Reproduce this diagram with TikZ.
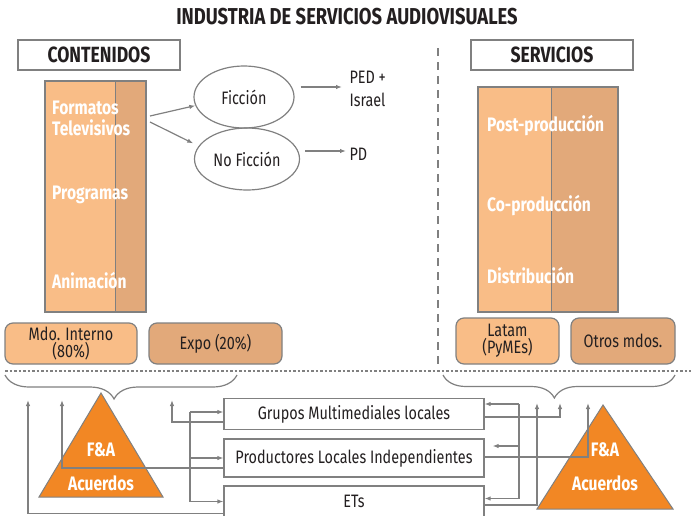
\documentclass[tikz,border=0pt]{standalone}
\usepackage{fontspec}
\setmainfont[FakeStretch=0.8]{Fira Sans}
\usepackage{tikz}
\usepackage{xcolor}
\definecolor{audnaranja}{RGB}{249, 189, 135}
\definecolor{audocre}{RGB}{226, 169, 122}
\definecolor{audfuerte}{RGB}{242, 135, 36}
\definecolor{audgris}{RGB}{128, 128, 128}
\definecolor{audtexto}{RGB}{35, 31, 32}
\usetikzlibrary{arrows.meta, decorations.pathreplacing, shapes.geometric, calc}

\begin{document}
\begin{tikzpicture}[>={Latex[length=6pt, width=4.5pt]}, x=1pt, y=-1pt,
    font=\fontsize{18}{19}\selectfont, text=audtexto,
    linea/.style={audgris, line width=1.2pt},
    flecha/.style={linea, ->},
    encabezado/.style={draw=audgris, line width=1.3pt, fill=white, font=\fontsize{22}{24}\selectfont\bfseries},
    blanco/.style={text=white, anchor=west, align=left, inner sep=0pt, font=\fontsize{19.5}{21}\selectfont\bfseries},
    elipse/.style={ellipse, draw=audgris, line width=1.2pt},
    mercado/.style={draw=audgris, line width=1.2pt, rounded corners=8pt, align=center, font=\fontsize{18}{17}\selectfont},
    agente/.style={draw=audgris, line width=1.2pt, minimum width=260pt}]

\useasboundingbox (0,0) rectangle (691,515);

% === Título ===
\node[font=\fontsize{23}{24}\selectfont\bfseries] (titulo) at (347,17) {INDUSTRIA DE SERVICIOS AUDIOVISUALES};

% === Contenidos ===
\node[encabezado, minimum width=162pt, minimum height=30pt] (contenidos) at (99,55) {CONTENIDOS};
\fill[audnaranja] (45,81) rectangle (146,312);
\fill[audocre] (115,81) rectangle (146,312);
\draw[audgris, line width=1pt] (115,81) -- (115,312);
\draw[audgris, line width=2.5pt] (45,81) rectangle (146,312);
\node[blanco] (formatos) at (52,118) {Formatos\\Televisivos};
\node[blanco] (programas) at (52,195) {Programas};
\node[blanco] (animacion) at (52,281) {Animación};

% Ficción / No Ficción
\node[elipse, minimum width=100pt, minimum height=62pt] (ficcion) at (244,97) {Ficción};
\node[elipse, minimum width=105pt, minimum height=62pt] (noficcion) at (247,159) {No Ficción};
\draw[flecha] (150,116) -- (ficcion.190);
\draw[flecha, shorten >=6pt] (150,122) -- (noficcion.165);

\node[anchor=west, align=left, font=\fontsize{18}{23}\selectfont] (ped) at (346,89) {PED +\\Israel};
\node[anchor=west] (pd) at (346,154) {PD};
\draw[flecha] ($(ficcion.east)+(6,-10)$) -- ($(ped.west)+(-4,-2)$);
\draw[flecha] ($(noficcion.east)+(5,-8)$) -- ($(pd.west)+(0,-3)$);

% Separador
\draw[audgris, line width=2.5pt, dash pattern=on 8pt off 6pt] (438,48) -- (438,370);

% === Servicios ===
\node[encabezado, minimum width=162pt, minimum height=30pt] (servicios) at (552,55) {SERVICIOS};
\fill[audnaranja] (478,87) rectangle (618,312);
\fill[audocre] (551,87) rectangle (618,312);
\draw[audgris, line width=1pt] (551,87) -- (551,312);
\draw[audgris, line width=2.5pt] (478,87) rectangle (618,312);
\node[blanco] (postprod) at (487,126) {Post-producción};
\node[blanco] (coprod) at (487,206) {Co-producción};
\node[blanco] (distrib) at (487,276) {Distribución};

% === Mercados ===
\node[mercado, fill=audnaranja, minimum width=132pt, minimum height=41pt] (interno) at (71,343.5) {Mdo. Interno\\(80\%)};
\node[mercado, fill=audocre, minimum width=133pt, minimum height=41pt] (expo) at (215.5,343.5) {Expo (20\%)};
\node[mercado, fill=audnaranja, minimum width=103pt, minimum height=46pt] (latam) at (507.5,341) {Latam\\(PyMEs)};
\node[mercado, fill=audocre, minimum width=104pt, minimum height=46pt] (otros) at (623,341) {Otros mdos.};

\draw[audgris, line width=2.5pt, dash pattern=on 2.5pt off 2pt] (5,371) -- (691,371);

% Llaves
\draw[linea, decorate, decoration={brace, mirror, amplitude=24pt, aspect=0.47}] (5,375) -- (237,375);
\draw[linea, decorate, decoration={brace, mirror, amplitude=23pt, aspect=0.48}] (443,375) -- (675,375);

% === F&A ===
\draw[audgris, line width=1pt, fill=audfuerte] (101,393) -- (163,497) -- (39,497) -- cycle;
\draw[audgris, line width=1pt, fill=audfuerte] (603,405) -- (673,509) -- (537,509) -- cycle;

% === Agentes ===
\node[agente, minimum height=31pt] (grupos) at (354,414) {Grupos Multimediales locales};
\node[agente, minimum height=38pt] (productores) at (354,458) {Productores Locales Independientes};
\node[agente, minimum height=31pt] (ets) at (354,501.5) {ETs};

% Conexiones izquierda
\coordinate (busizq) at (190,412);
\coordinate (mdoA) at (28,400);
\coordinate (mdoB) at (62,400);
\coordinate (mdoC) at (172,400);
\draw[linea] (busizq) -- (busizq |- ets.west);
\draw[flecha] (busizq) -- (busizq -| grupos.west);
\draw[flecha] (busizq |- productores.west) -- (productores.west);
\draw[flecha] (busizq |- ets.west) -- (ets.west);
\draw[flecha] ($(grupos.west)+(0,8)$) -| (mdoC);
\draw[flecha] ($(productores.west)+(0,10)$) -| (mdoB);
\draw[flecha] ($(ets.west)+(0,12)$) -| (mdoA);

% Conexiones derecha
\coordinate (busder) at (519,404);
\coordinate (prodsal) at ($(productores.east)+(0,-12)$);
\coordinate (etsent) at ($(ets.east)+(0,-3)$);
\coordinate (expA) at (537,403);
\coordinate (expB) at (560,403);
\coordinate (expC) at (588,403);
\draw[linea] (busder) -- (busder |- etsent);
\draw[flecha] (busder) -- (busder -| grupos.east);
\draw[flecha, shorten >=8pt] (busder |- prodsal) -- (prodsal);
\draw[flecha] (busder |- etsent) -- (etsent);
\draw[flecha] ($(grupos.east)+(0,3)$) -| (expB);
\draw[flecha] ($(productores.east)+(0,-1)$) -| (expC);
\draw[flecha] ($(ets.east)+(0,3.5)$) -| (expA);

% Textos de los triángulos
\node[blanco, anchor=center] (fa) at (101,450) {F\&A};
\node[blanco, anchor=center] (acuerdos) at (101,483) {Acuerdos};
\node[blanco, anchor=center] (fader) at (605,450) {F\&A};
\node[blanco, anchor=center] (acuerdosder) at (605,483) {Acuerdos};

\end{tikzpicture}
\end{document}
